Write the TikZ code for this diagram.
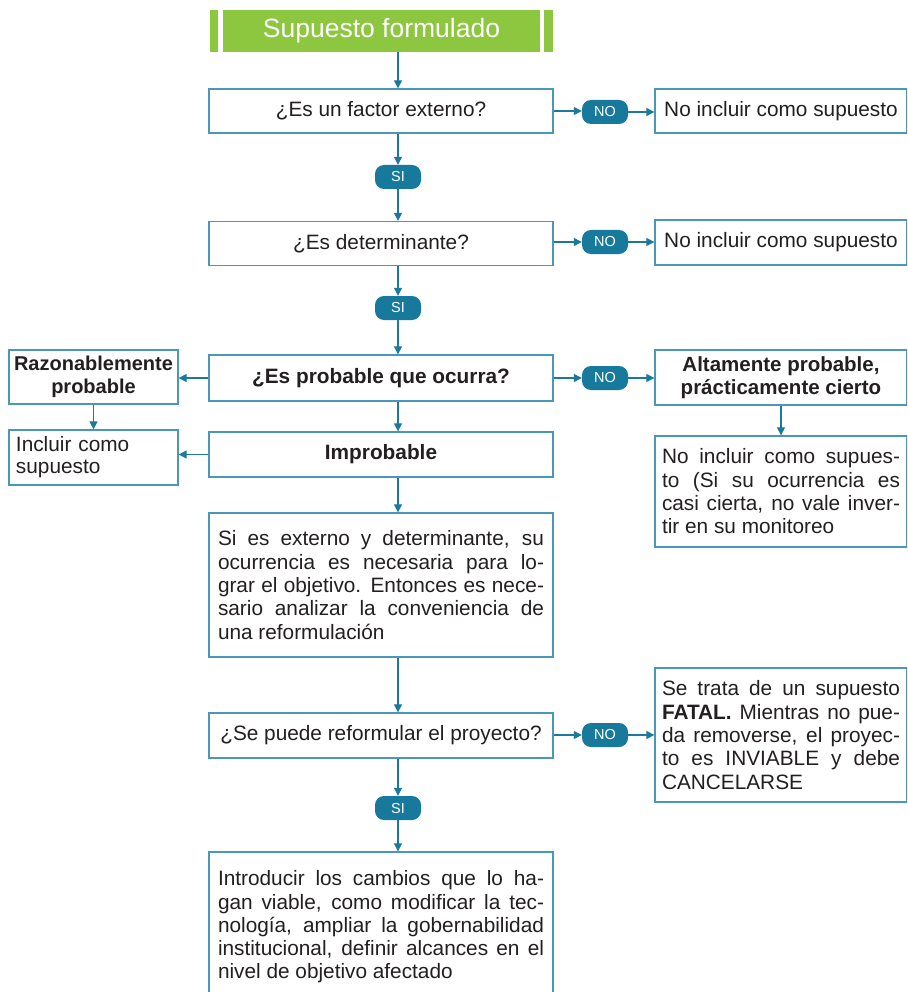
\documentclass[tikz,border=0pt]{standalone}
\usepackage{fontspec}
\setmainfont{Liberation Sans}
\usetikzlibrary{arrows.meta,positioning,calc}
\definecolor{bord}{HTML}{4A97B8}
\definecolor{arrc}{HTML}{1B7A9C}
\definecolor{pillc}{HTML}{17799B}
\definecolor{greenc}{HTML}{8DC63F}
\definecolor{txt}{HTML}{231F20}
\tikzset{
  box/.style={draw=bord, line width=1.3pt, fill=white, inner sep=0pt, align=center, text=txt,
    font=\fontsize{20.8}{23.3}\selectfont},
  jbox/.style={box, align=justify, inner xsep=7pt},
  pill/.style={fill=pillc, rounded corners=9pt, minimum width=46pt, minimum height=24pt, inner sep=0pt,
    text=white, font=\fontsize{14.5}{15}\selectfont},
  arr/.style={draw=arrc, line width=1.2pt, -{Triangle[length=8pt,width=8pt]}},
}
\begin{document}
\begin{tikzpicture}[x=1pt,y=-1pt]
\useasboundingbox (0,0) rectangle (907,992);
\clip (0,0) rectangle (907,992);
\fill[white] (0,0) rectangle (907,992);
\coordinate (ax) at (398,0);
% title
\fill[greenc] (210,10) rectangle (218,52);
\fill[greenc] (544,10) rectangle (553,52);
\node[fill=greenc, minimum width=317pt, minimum height=42pt, inner sep=0pt, text=white,
  font=\fontsize{26.5}{28}\selectfont] (title) at (381.5,31) {Supuesto formulado};
% q1
\node[box, minimum width=344pt, minimum height=44pt] (q1) at (381,111) {¿Es un factor externo?};
\node[pill] (no1) at (605,112) {NO};
\node[box, minimum width=252pt, minimum height=44pt] (r1) at (781,111) {No incluir como supuesto};
\node[pill] (si1) at (398,177) {SI};
% q2
\node[box, minimum width=344pt, minimum height=44pt] (q2) at (381,243.5) {¿Es determinante?};
\node[pill] (no2) at (605,242) {NO};
\node[box, minimum width=252pt, minimum height=45pt] (r2) at (781,242.5) {No incluir como supuesto};
\node[pill] (si2) at (398,308) {SI};
% q3
\node[box, minimum width=344pt, minimum height=46pt, font=\fontsize{20.8}{23.3}\selectfont\bfseries] (q3) at (381,378) {¿Es probable que ocurra?};
\node[box, minimum width=169pt, minimum height=54pt, font=\fontsize{20}{22.5}\selectfont\bfseries] (raz) at (93.5,377) {Razonablemente\\probable};
\node[box, minimum width=169pt, minimum height=55pt, align=left, text width=155pt, inner xsep=7pt, font=\fontsize{20.8}{22}\selectfont] (inc) at (93.5,457.5) {Incluir como\\supuesto};
\node[box, minimum width=344pt, minimum height=45pt, font=\fontsize{20.8}{23.3}\selectfont\bfseries] (imp) at (381,454.5) {Improbable};
\node[pill] (no3) at (605,378) {NO};
\node[box, minimum width=252pt, minimum height=55pt, font=\fontsize{20.5}{23}\selectfont\bfseries] (alt) at (781,377.5) {Altamente probable,\\prácticamente cierto};
\node[jbox, text width=238pt, minimum width=252pt, minimum height=111pt] (noinc) at (781,491.5)
  {No incluir como supues-\linebreak to (Si su ocurrencia es\linebreak casi cierta, no vale inver-\linebreak tir en su monitoreo};
% explanation
\node[jbox, text width=326pt, minimum width=344pt, minimum height=144pt] (exp) at (381,585)
  {Si es externo y determinante, su\linebreak ocurrencia es necesaria para lo-\linebreak grar el objetivo. Entonces es nece-\linebreak sario analizar la conveniencia de\linebreak una reformulación};
% q4
\node[box, minimum width=344pt, minimum height=45pt] (q4) at (381,735.5) {¿Se puede reformular el proyecto?};
\node[pill] (no4) at (605,735) {NO};
\node[jbox, text width=238pt, minimum width=252pt, minimum height=134pt] (fatal) at (781,735)
  {Se trata de un supuesto\linebreak \textbf{FATAL.} Mientras no pue-\linebreak da removerse, el proyec-\linebreak to es INVIABLE y debe\linebreak CANCELARSE};
\node[pill] (si4) at (398,808) {SI};
\node[jbox, text width=326pt, minimum width=344pt, minimum height=150pt] (fin) at (381,927)
  {Introducir los cambios que lo ha-\linebreak gan viable, como modificar la tec-\linebreak nología, ampliar la gobernabilidad\linebreak institucional, definir alcances en el\linebreak nivel de objetivo afectado};
% connectors
\draw[arr] (title.south -| ax) -- (q1.north -| ax);
\draw[arr] (q1.east) -- (no1.west |- q1.east);
\draw[arr] (no1.east) -- (r1.west |- no1.east);
\draw[arr] (q1.south -| ax) -- (si1.north);
\draw[arr] (si1.south) -- (q2.north -| ax);
\draw[arr] (q2.east |- no2.west) -- (no2.west);
\draw[arr] (no2.east) -- (r2.west |- no2.east);
\draw[arr] (q2.south -| ax) -- (si2.north);
\draw[arr] (si2.south) -- (q3.north -| ax);
\draw[arr] (q3.west) -- (raz.east |- q3.west);
\draw[arr] (raz.south) -- (inc.north);
\draw[arr] (q3.south -| ax) -- (imp.north -| ax);
\draw[arr] (imp.west) -- (inc.east |- imp.west);
\draw[arr] (q3.east) -- (no3.west);
\draw[arr] (no3.east) -- (alt.west |- no3.east);
\draw[arr] (alt.south) -- (noinc.north);
\draw[arr] (imp.south -| ax) -- (exp.north -| ax);
\draw[arr] (exp.south -| ax) -- (q4.north -| ax);
\draw[arr] (q4.east |- no4.west) -- (no4.west);
\draw[arr] (no4.east) -- (fatal.west |- no4.east);
\draw[arr] (q4.south -| ax) -- (si4.north);
\draw[arr] (si4.south) -- (fin.north -| ax);
\end{tikzpicture}
\end{document}
